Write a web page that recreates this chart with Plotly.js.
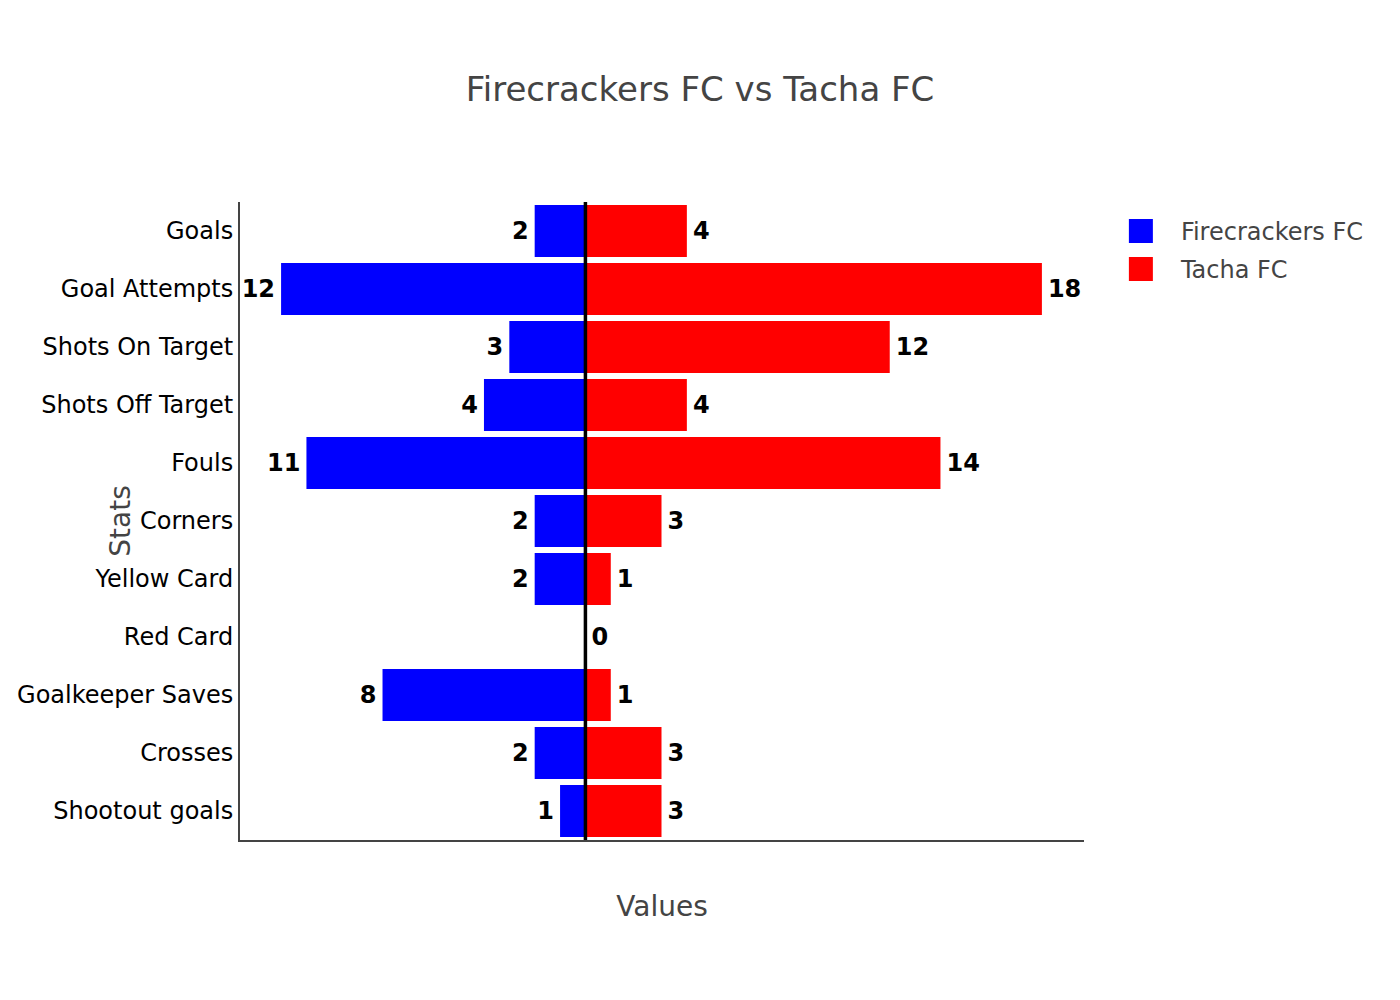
<!DOCTYPE html>
<html>
<head>
<meta charset="utf-8">
<script src="https://cdn.plot.ly/plotly-3.0.1.min.js"></script>
<style>
  html, body { margin: 0; padding: 0; background: #fff; }
  #wrap { width: 1400px; height: 1000px; position: relative; }
  #chart { position: absolute; left: 0; top: 0; width: 700px; height: 500px; transform: scale(2); transform-origin: 0 0; }
</style>
</head>
<body>
<div id="wrap"><div id="chart"></div></div>
<script>
const categories = ["Goals", "Goal Attempts", "Shots On Target", "Shots Off Target", "Fouls",
  "Corners", "Yellow Card", "Red Card", "Goalkeeper Saves", "Crosses", "Shootout goals"];
const firecrackersValues = [2, 12, 3, 4, 11, 2, 2, 0, 8, 2, 1];
const tachaValues = [4, 18, 12, 4, 14, 3, 1, 0, 1, 3, 3];
const teamNames = ["Firecrackers FC", "Tacha FC"];

const font = "DejaVu Sans, Verdana, sans-serif";

const traces = [
  {
    type: "bar", orientation: "h", name: teamNames[0],
    y: categories,
    x: firecrackersValues.map(v => -v),
    text: firecrackersValues.map(v => v === 0 ? "" : String(v)),
    textposition: "outside",
    textfont: { family: font, size: 12, color: "#000", weight: "bold" },
    marker: { color: "#0000ff" },
    hoverinfo: "none", cliponaxis: false
  },
  {
    type: "bar", orientation: "h", name: teamNames[1],
    y: categories,
    x: tachaValues,
    text: tachaValues.map(v => String(v)),
    textposition: "outside",
    textfont: { family: font, size: 12, color: "#000", weight: "bold" },
    marker: { color: "#ff0000" },
    hoverinfo: "none", cliponaxis: false
  }
];

const layout = {
  width: 700, height: 500,
  font: { family: font, size: 12, color: "#444" },
  paper_bgcolor: "#fff", plot_bgcolor: "#fff",
  title: { text: "Firecrackers FC vs Tacha FC", font: { family: font, size: 17, color: "#444" }, x: 0.5, xanchor: "center" },
  barmode: "relative",
  bargap: 0.1,
  margin: { l: 120, r: 157.5, t: 100.5, b: 80 },
  xaxis: {
    title: { text: "Values", font: { family: font, size: 14, color: "#444" } },
    range: [-13.62, 19.66],
    showticklabels: false, showgrid: false, zeroline: false,
    showline: true, linecolor: "#444", linewidth: 1, ticks: ""
  },
  yaxis: {
    title: { text: "Stats", font: { family: font, size: 14, color: "#444" } },
    autorange: "reversed",
    tickfont: { family: font, size: 12, color: "#000" },
    showgrid: false, zeroline: false,
    showline: true, linecolor: "#444", linewidth: 1, ticks: "", automargin: false
  },
  legend: { x: 1.02, y: 1, font: { family: font, size: 12, color: "#444" } },
  shapes: [
    { type: "line", xref: "x", yref: "paper", x0: 0, x1: 0, y0: 0, y1: 1, line: { color: "#000", width: 1.75 } }
  ]
};

Plotly.newPlot("chart", traces, layout, { staticPlot: true, displayModeBar: false });
</script>
</body>
</html>
